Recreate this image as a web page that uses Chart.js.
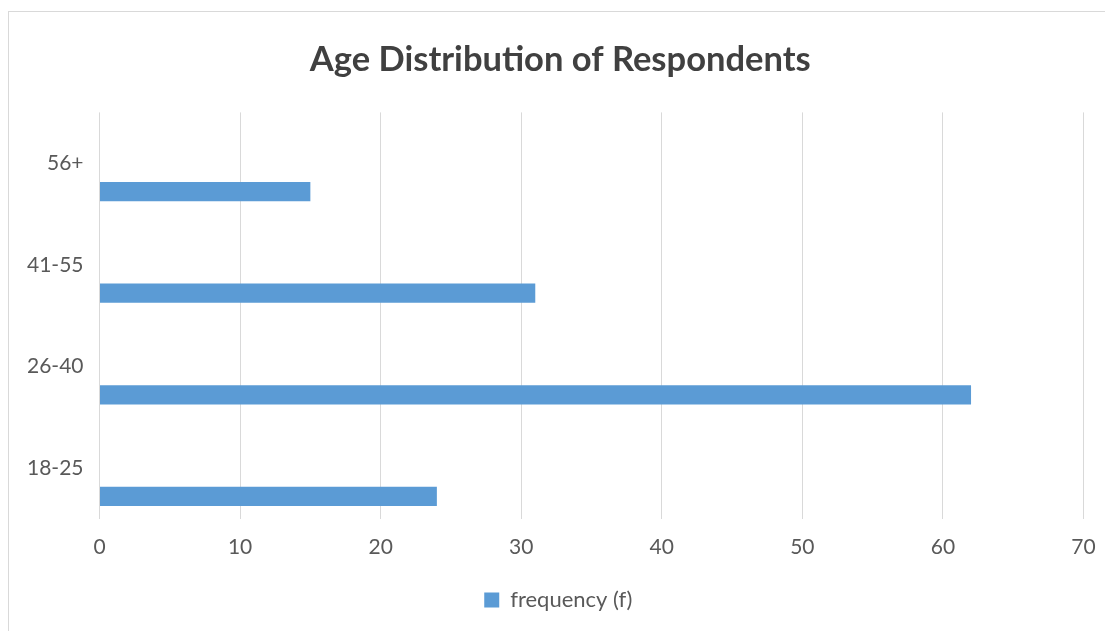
<!DOCTYPE html>
<html>
<head>
<meta charset="utf-8">
<script src="https://cdn.jsdelivr.net/npm/chart.js@4.4.1/dist/chart.umd.min.js"></script>
<style>
  html, body { margin: 0; padding: 0; background: #ffffff; }
  #wrap { position: relative; width: 1105px; height: 631px; overflow: hidden; }
  #frame { position: absolute; left: 8px; top: 11px; width: 1200px; height: 700px;
           border-left: 1px solid #d9d9d9; border-top: 1px solid #d9d9d9; box-sizing: border-box; }
  #c { position: absolute; left: 0; top: 0; }
</style>
</head>
<body>
<div id="wrap">
  <div id="frame"></div>
  <canvas id="c" width="1105" height="631"></canvas>
</div>
<script>
const categories = ["18-25", "26-40", "41-55", "56+"];
const frequency = [24, 62, 31, 15];
const spacer = [];            // empty series that keeps the Excel-style offset slot
const xTicks = [0, 10, 20, 30, 40, 50, 60, 70];
const seriesName = "frequency (f)";
const chartTitle = "Age Distribution of Respondents";

const FONT = "Lato, 'Open Sans', 'Liberation Sans', sans-serif";
const GRAY = "#595959";

// Excel centres title and legend in the whole (cropped) chart frame, not the canvas
const frameCentering = {
  id: "frameCentering",
  afterLayout(chart) {
    if (chart.titleBlock) { chart.titleBlock.left += 14.5; chart.titleBlock.right += 14.5; }
    if (chart.legend) { chart.legend.left += 12.5; chart.legend.right += 12.5; }
  }
};

new Chart(document.getElementById("c"), {
  type: "bar",
  data: {
    labels: categories,
    datasets: [
      { label: "", data: spacer, backgroundColor: "rgba(0,0,0,0)" },
      { label: seriesName, data: frequency, backgroundColor: "#5b9bd5", borderWidth: 0 }
    ]
  },
  plugins: [frameCentering],
  options: {
    indexAxis: "y",
    responsive: false,
    animation: false,
    devicePixelRatio: 1,
    categoryPercentage: 1.114,
    barPercentage: 0.34,
    layout: { padding: { left: 8, right: 21.5, top: 0, bottom: 10 } },
    plugins: {
      title: {
        display: true,
        text: chartTitle,
        color: "#404040",
        font: { family: FONT, size: 34.5, weight: "bold" },
        padding: { top: 39, bottom: 32 }
      },
      legend: {
        display: true,
        position: "bottom",
        labels: {
          color: GRAY,
          font: { family: FONT, size: 22 },
          boxWidth: 15,
          boxHeight: 15,
          padding: 10,
          filter: (item) => item.text !== ""
        }
      },
      tooltip: { enabled: false }
    },
    scales: {
      x: {
        type: "linear",
        min: xTicks[0],
        max: xTicks[xTicks.length - 1],
        afterBuildTicks: (s) => { s.ticks = xTicks.map(v => ({ value: v })); },
        grid: { color: "#d9d9d9", lineWidth: 1, drawTicks: false },
        border: { display: false },
        ticks: { color: GRAY, font: { family: FONT, size: 21 }, padding: 16 },
        afterFit: (s) => { s.height = 60; s.paddingLeft = 0; s.paddingRight = 0; }
      },
      y: {
        reverse: true,
        grid: { display: false, drawTicks: false },
        border: { display: false },
        ticks: { color: GRAY, font: { family: FONT, size: 21 }, padding: 16 },
        afterFit: (s) => { s.width = 91.5; s.paddingTop = 0; s.paddingBottom = 0; }
      }
    }
  }
});
</script>
</body>
</html>
